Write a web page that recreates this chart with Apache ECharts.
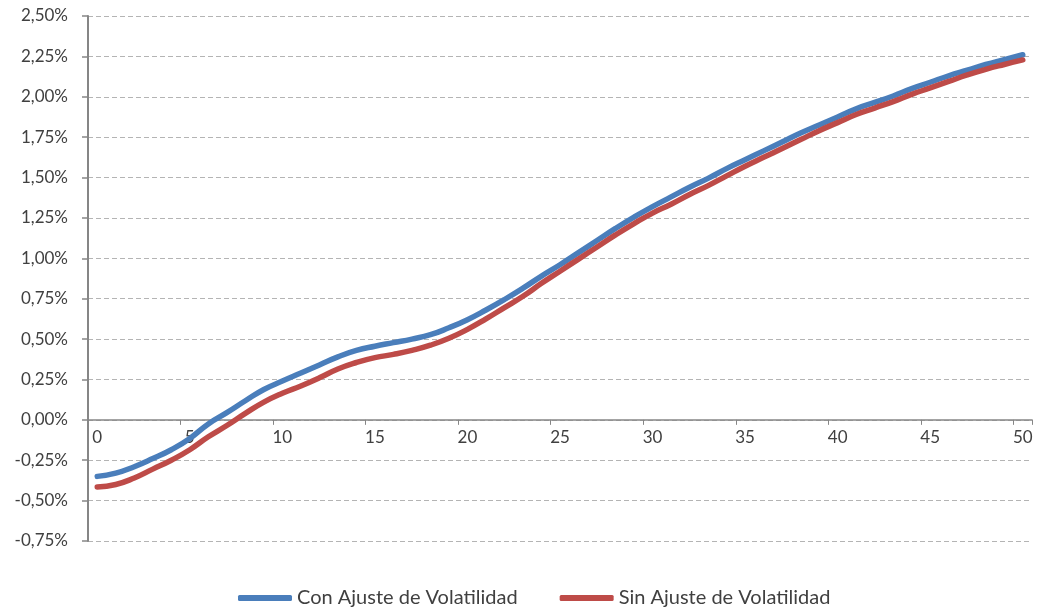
<!DOCTYPE html>
<html>
<head>
<meta charset="utf-8">
<script src="https://cdn.jsdelivr.net/npm/echarts@6/dist/echarts.min.js"></script>
<style>
  html, body { margin: 0; padding: 0; background: #fff; }
  #chart { width: 1038px; height: 609px; }
</style>
</head>
<body>
<div id="chart"></div>
<script>
// años (0..50)
const categories = [];
for (let i = 0; i <= 50; i++) categories.push(String(i));

// valores en %
const conAjuste = [
  -0.35, -0.33, -0.29, -0.24, -0.185, -0.115, -0.025, 0.045, 0.118, 0.188,
  0.24, 0.29, 0.34, 0.39, 0.43, 0.456, 0.478, 0.5, 0.527, 0.57,
  0.62, 0.68, 0.745, 0.815, 0.89, 0.96, 1.035, 1.11, 1.185, 1.255,
  1.32, 1.38, 1.44, 1.495, 1.555, 1.61, 1.665, 1.72, 1.775, 1.825,
  1.875, 1.925, 1.965, 2.005, 2.05, 2.09, 2.13, 2.165, 2.2, 2.23,
  2.26
];
const sinAjuste = [
  -0.415, -0.4, -0.36, -0.305, -0.25, -0.185, -0.105, -0.035, 0.04, 0.11,
  0.165, 0.21, 0.26, 0.315, 0.355, 0.385, 0.405, 0.43, 0.462, 0.505,
  0.56, 0.625, 0.695, 0.765, 0.845, 0.92, 0.995, 1.07, 1.145, 1.215,
  1.28, 1.335, 1.395, 1.45, 1.51, 1.57, 1.625, 1.68, 1.735, 1.79,
  1.84, 1.89, 1.93, 1.97, 2.015, 2.055, 2.095, 2.135, 2.17, 2.2,
  2.228
];

const seriesNames = ['Con Ajuste de Volatilidad', 'Sin Ajuste de Volatilidad'];

const chart = echarts.init(document.getElementById('chart'));
const font = 'Lato';
const txt = '#404040';
const axisGray = '#868686';

// y del 0 dentro del grid: el eje x se sube hasta ahí
const yMin = -0.75, yMax = 2.5;
const gridTop = 16, gridBottom = 68, gridH = 609 - gridTop - gridBottom;
const zeroOffset = -gridH * (0 - yMin) / (yMax - yMin);

chart.setOption({
  animation: false,
  grid: { left: 88, right: 6, top: gridTop, bottom: gridBottom, containLabel: false },
  legend: {
    left: 233,
    bottom: -4,
    icon: 'roundRect',
    itemWidth: 54,
    itemHeight: 6,
    itemGap: 42,
    textStyle: { fontFamily: font, fontSize: 20, color: txt },
    data: seriesNames
  },
  xAxis: {
    type: 'category',
    data: categories,
    boundaryGap: true,
    offset: zeroOffset,
    axisLine: { onZero: false, lineStyle: { color: axisGray, width: 1.5 } },
    axisTick: { show: true, interval: 4, length: 5, lineStyle: { color: axisGray } },
    axisLabel: { interval: 4, margin: 9, fontFamily: font, fontSize: 17, color: txt },
    splitLine: { show: false }
  },
  yAxis: {
    type: 'value',
    min: yMin,
    max: yMax,
    interval: 0.25,
    axisLine: { show: true, lineStyle: { color: axisGray, width: 2 } },
    axisTick: { show: true, length: 6, lineStyle: { color: axisGray, width: 1.5 } },
    axisLabel: {
      margin: 20,
      fontFamily: font,
      fontSize: 17,
      color: txt,
      formatter: v => v.toFixed(2).replace('.', ',') + '%'
    },
    splitLine: { show: true, lineStyle: { color: '#b4b4b4', type: [5, 3], width: 1 } }
  },
  series: [
    {
      name: seriesNames[0],
      type: 'line',
      data: conAjuste,
      smooth: true,
      showSymbol: false,
      color: '#4A7EBB',
      lineStyle: { width: 5.5, cap: 'round' }
    },
    {
      name: seriesNames[1],
      type: 'line',
      data: sinAjuste,
      smooth: true,
      showSymbol: false,
      color: '#BE4B48',
      lineStyle: { width: 5.5, cap: 'round' }
    }
  ]
});
</script>
</body>
</html>
